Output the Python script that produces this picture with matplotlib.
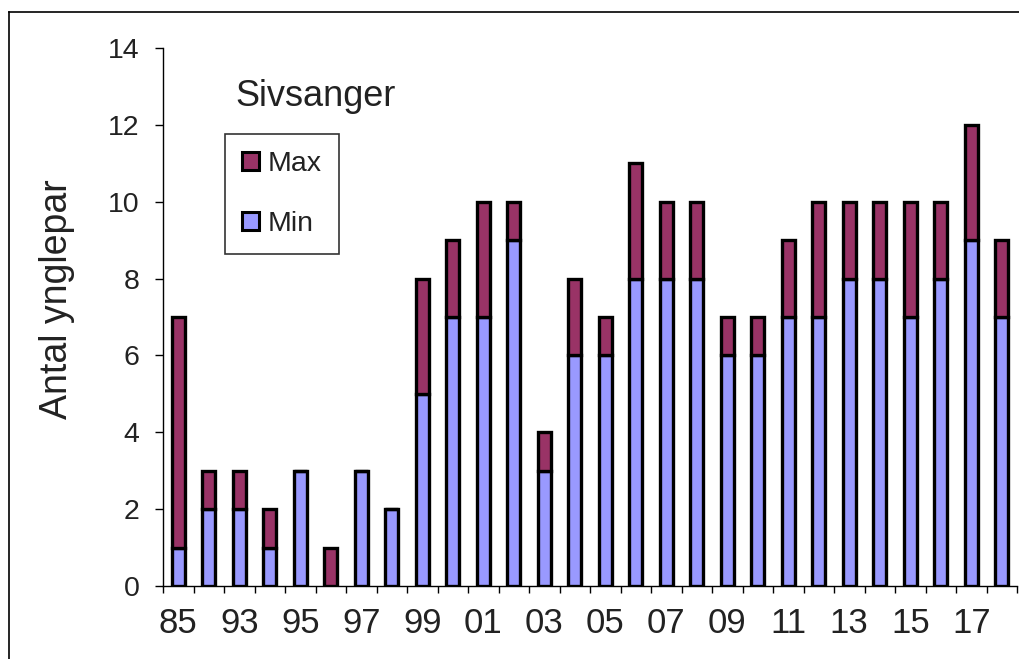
import matplotlib
matplotlib.use("Agg")
import matplotlib.pyplot as plt
from matplotlib.lines import Line2D
from matplotlib.patches import Patch

plt.rcParams['font.family'] = ['Liberation Sans', 'DejaVu Sans']

years = ["85", "92", "93", "94", "95", "96", "97", "98", "99", "00", "01", "02", "03",
         "04", "05", "06", "07", "08", "09", "10", "11", "12", "13", "14", "15", "16",
         "17", "18"]
min_vals = [1, 2, 2, 1, 3, 0, 3, 2, 5, 7, 7, 9, 3, 6, 6, 8, 8, 8, 6, 6, 7, 7, 8, 8, 7, 8, 9, 7]
max_vals = [7, 3, 3, 2, 3, 1, 3, 2, 8, 9, 10, 10, 4, 8, 7, 11, 10, 10, 7, 7, 9, 10, 10, 10, 10, 10, 12, 9]
title_text = "Sivsanger"
ylabel_text = "Antal ynglepar"

MAX_COLOR = "#993366"
MIN_COLOR = "#9999FF"

W, H = 1019, 659
fig = plt.figure(figsize=(W / 100, H / 100), dpi=100)
ax = fig.add_axes([163 / W, 1 - 586 / H, (1017 - 163) / W, (586 - 48) / H])

x = list(range(len(years)))
extra = [mx - mn for mn, mx in zip(min_vals, max_vals)]
bw = 0.42
ax.bar(x, min_vals, width=bw, color=MIN_COLOR, edgecolor="black", linewidth=2.4, zorder=2)
ax.bar(x, extra, bottom=min_vals, width=bw, color=MAX_COLOR, edgecolor="black",
       linewidth=2.4, zorder=2)

ax.set_xlim(-0.5, len(years) - 0.5)
ax.set_ylim(0, 14)
ax.set_yticks(range(0, 15, 2))
ax.tick_params(axis='y', direction='out', length=6, width=1, labelsize=20.5, pad=11,
               labelcolor='#222222')

# major ticks at category boundaries, labels on every other category
ax.set_xticks([i - 0.5 for i in range(len(years) + 1)])
ax.set_xticklabels([])
ax.set_xticks(x[::2], minor=True)
ax.set_xticklabels(years[::2], minor=True)
ax.tick_params(axis='x', which='major', direction='out', length=5, width=1)
ax.tick_params(axis='x', which='minor', length=0, labelsize=25, pad=15,
               labelcolor='#222222')

for side in ['top', 'right']:
    ax.spines[side].set_visible(False)
ax.spines['left'].set_linewidth(1)
ax.spines['bottom'].set_linewidth(1)

ax.set_ylabel(ylabel_text, fontsize=27, color='#222222')
ax.yaxis.set_label_coords(-0.103, 0.534)

fig.text(235 / W, 1 - 106 / H, title_text, fontsize=26, ha='left', va='baseline',
         color='#222222')

handles = [Patch(facecolor=MAX_COLOR, edgecolor='black', linewidth=2.2, label='Max'),
           Patch(facecolor=MIN_COLOR, edgecolor='black', linewidth=2.2, label='Min')]
leg = fig.legend(handles=handles, loc='upper left',
                 bbox_to_anchor=(225 / W, 1 - 134 / H), fontsize=20.5,
                 frameon=True, fancybox=False, handlelength=0.6, handleheight=0.6,
                 handletextpad=0.3, labelspacing=1.2, borderpad=0.6, borderaxespad=0)
for t in leg.get_texts():
    t.set_color('#222222')
leg.get_frame().set_edgecolor('black')
leg.get_frame().set_linewidth(1.2)

# outer frame
fig.add_artist(Line2D([9 / W, 9 / W], [0, 1 - 12 / H], color='black', linewidth=1.2))
fig.add_artist(Line2D([9 / W, 1], [1 - 12 / H, 1 - 12 / H], color='black', linewidth=1.2))

fig.savefig("out.png", dpi=100)
